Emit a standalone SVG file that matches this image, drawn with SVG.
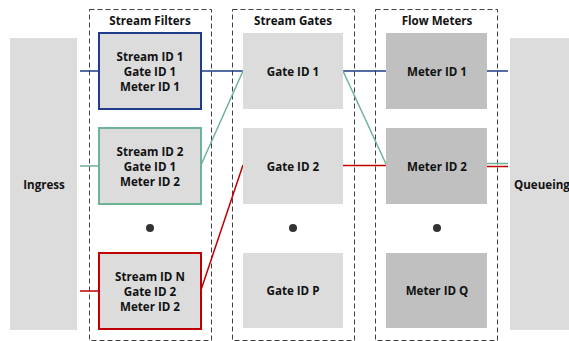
<svg xmlns="http://www.w3.org/2000/svg" width="569" height="341" viewBox="0 0 569 341">
<style>
text{font-family:"Open Sans","Noto Sans","Liberation Sans",sans-serif;font-weight:bold;font-size:11.6px;fill:#111;text-anchor:middle;dominant-baseline:central}
.grp{fill:none;stroke:#404040;stroke-width:1;stroke-dasharray:5,3}
.big{fill:#dcdcdc}
.gate{fill:#dcdcdc}
.meter{fill:#c0c0c0}
.sf{fill:#dcdcdc;stroke-width:2}
.dot{fill:#333}
.c{fill:none;stroke-width:1.5}
.b{stroke:#1f3c88}
.g{stroke:#6db396}
.r{stroke:#c00000}
</style>
<rect width="569" height="341" fill="#fff"/>
<g id="ingress"><rect class="big" x="10" y="38" width="67" height="292"/><text x="44" y="184">Ingress</text></g>
<g id="queueing"><rect class="big" x="510" y="38" width="70" height="292"/><text x="514" y="184" style="text-anchor:start">Queueing</text></g>
<g id="stream-filters"><rect class="grp" x="89.5" y="9.5" width="122" height="331"/><text x="150" y="20">Stream Filters</text></g>
<g id="stream-gates"><rect class="grp" x="232.5" y="9.5" width="122" height="331"/><text x="293" y="20">Stream Gates</text></g>
<g id="flow-meters"><rect class="grp" x="375.5" y="9.5" width="122" height="331"/><text x="437" y="20">Flow Meters</text></g>
<g id="connectors">
<path class="c b" d="M80 71H99M201 71H243M343 71H386M487 71H508"/>
<path class="c g" d="M80 166H99M201 165L243 71M343 71L386 164M487 163.5H508"/>
<path class="c r" d="M80 291H99M201 290L243 165M343 165.5H386M487 166.5H508"/>
</g>
<g id="sf1"><rect class="sf" x="99" y="33" width="102" height="76" stroke="#1f3c88"/><text x="150" y="56">Stream ID 1</text><text x="150" y="71">Gate ID 1</text><text x="150" y="86">Meter ID 1</text></g>
<g id="sf2"><rect class="sf" x="99" y="128" width="102" height="76" stroke="#6db396"/><text x="150" y="151">Stream ID 2</text><text x="150" y="166">Gate ID 1</text><text x="150" y="181">Meter ID 2</text></g>
<g id="sf-dots"><circle class="dot" cx="150" cy="228" r="4"/></g>
<g id="sfN"><rect class="sf" x="99" y="253" width="102" height="76" stroke="#c00000"/><text x="150" y="276">Stream ID N</text><text x="150" y="291">Gate ID 2</text><text x="150" y="306">Meter ID 2</text></g>
<g id="gate1"><rect class="gate" x="243" y="33" width="100" height="76"/><text x="293" y="71">Gate ID 1</text></g>
<g id="gate2"><rect class="gate" x="243" y="128" width="100" height="76"/><text x="293" y="166">Gate ID 2</text></g>
<g id="gate-dots"><circle class="dot" cx="293" cy="228" r="4"/></g>
<g id="gateP"><rect class="gate" x="243" y="253" width="100" height="75"/><text x="293" y="290">Gate ID P</text></g>
<g id="meter1"><rect class="meter" x="386" y="33" width="101" height="76"/><text x="437" y="71">Meter ID 1</text></g>
<g id="meter2"><rect class="meter" x="386" y="128" width="101" height="76"/><text x="437" y="166">Meter ID 2</text></g>
<g id="meter-dots"><circle class="dot" cx="437" cy="228" r="4"/></g>
<g id="meterQ"><rect class="meter" x="386" y="253" width="101" height="75"/><text x="437" y="290">Meter ID Q</text></g>
</svg>
